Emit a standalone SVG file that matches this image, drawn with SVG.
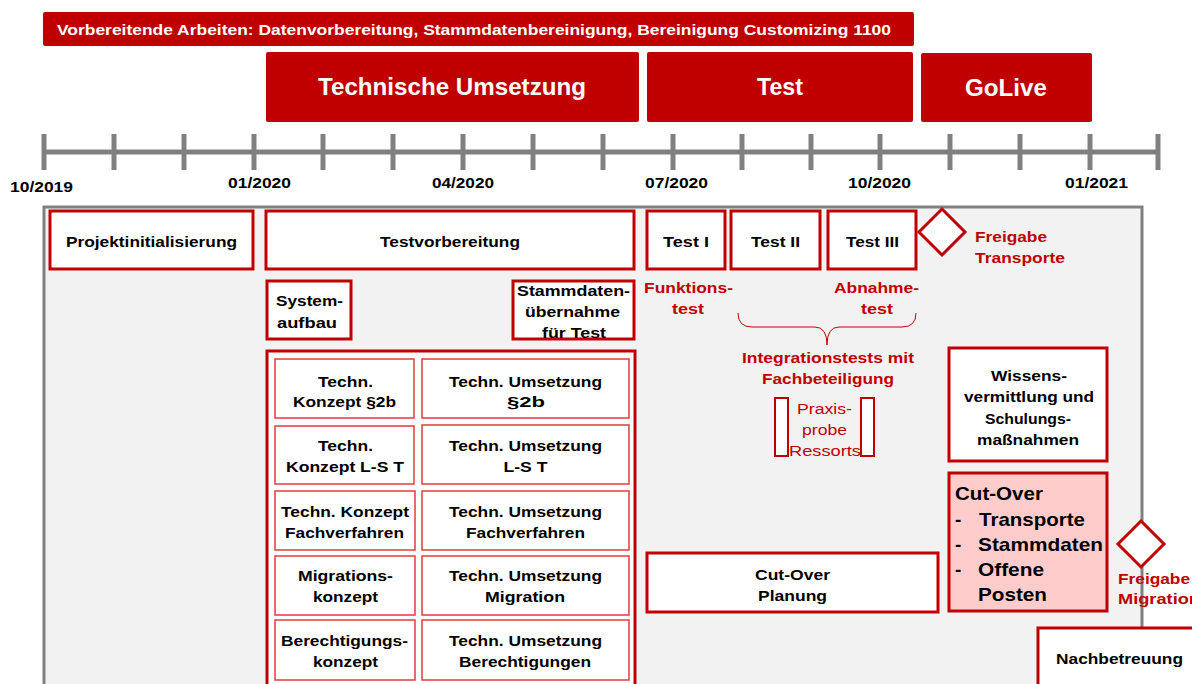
<svg xmlns="http://www.w3.org/2000/svg" width="1192" height="684" viewBox="0 0 1192 684">
<style>
text{font-family:"Liberation Sans",Arial,sans-serif;font-weight:bold;}
.ban{fill:#c00000;}
.wt{fill:#ffffff;}
.bx{fill:#ffffff;stroke:#c00000;stroke-width:3;}
.gb{fill:#ffffff;stroke:#e03c3c;stroke-width:1.5;}
.t{fill:#000000;font-size:15.5px;text-anchor:middle;}
.r{fill:#c00000;font-size:15.5px;}
.tick{stroke:#808080;stroke-width:5;}
.lab{fill:#000000;font-size:15px;text-anchor:middle;}
.n{font-weight:normal;fill:#c00000;font-size:15.5px;text-anchor:middle;}
</style>
<rect width="1192" height="684" fill="#ffffff"/>
<g id="banner">
<rect class="ban" x="43" y="12" width="871" height="34" rx="2"/>
<text class="wt" x="57" y="35" font-size="15.5" textLength="834" lengthAdjust="spacingAndGlyphs">Vorbereitende Arbeiten: Datenvorbereitung, Stammdatenbereinigung, Bereinigung Customizing 1100</text>
</g>
<g id="phase-tech">
<rect class="ban" x="266" y="52" width="373" height="70" rx="2"/>
<text class="wt" x="452" y="95" font-size="23" text-anchor="middle" textLength="268" lengthAdjust="spacingAndGlyphs">Technische Umsetzung</text>
</g>
<g id="phase-test">
<rect class="ban" x="647" y="52" width="266" height="70" rx="2"/>
<text class="wt" x="780" y="95" font-size="23" text-anchor="middle" textLength="46" lengthAdjust="spacingAndGlyphs">Test</text>
</g>
<g id="phase-golive">
<rect class="ban" x="921" y="53" width="171" height="69" rx="2"/>
<text class="wt" x="1006" y="96" font-size="23" text-anchor="middle" textLength="82" lengthAdjust="spacingAndGlyphs">GoLive</text>
</g>
<g id="timeline">
<line class="tick" x1="44" y1="152" x2="1158" y2="152"/>
<line class="tick" x1="44" y1="134" x2="44" y2="170"/>
<line class="tick" x1="114" y1="134" x2="114" y2="170"/>
<line class="tick" x1="184" y1="134" x2="184" y2="170"/>
<line class="tick" x1="254" y1="134" x2="254" y2="170"/>
<line class="tick" x1="323" y1="134" x2="323" y2="170"/>
<line class="tick" x1="393" y1="134" x2="393" y2="170"/>
<line class="tick" x1="463" y1="134" x2="463" y2="170"/>
<line class="tick" x1="533" y1="134" x2="533" y2="170"/>
<line class="tick" x1="603" y1="134" x2="603" y2="170"/>
<line class="tick" x1="673" y1="134" x2="673" y2="170"/>
<line class="tick" x1="742" y1="134" x2="742" y2="170"/>
<line class="tick" x1="811" y1="134" x2="811" y2="170"/>
<line class="tick" x1="880" y1="134" x2="880" y2="170"/>
<line class="tick" x1="950" y1="134" x2="950" y2="170"/>
<line class="tick" x1="1020" y1="134" x2="1020" y2="170"/>
<line class="tick" x1="1090" y1="134" x2="1090" y2="170"/>
<line class="tick" x1="1158" y1="134" x2="1158" y2="170"/>
<text class="lab" x="41.5" y="192" textLength="63" lengthAdjust="spacingAndGlyphs">10/2019</text>
<text class="lab" x="259.5" y="188" textLength="63" lengthAdjust="spacingAndGlyphs">01/2020</text>
<text class="lab" x="463" y="188" textLength="62" lengthAdjust="spacingAndGlyphs">04/2020</text>
<text class="lab" x="676.5" y="188" textLength="63" lengthAdjust="spacingAndGlyphs">07/2020</text>
<text class="lab" x="879.5" y="188" textLength="63" lengthAdjust="spacingAndGlyphs">10/2020</text>
<text class="lab" x="1096.5" y="188" textLength="63" lengthAdjust="spacingAndGlyphs">01/2021</text>
</g>
<g id="panel">
<rect x="44" y="207" width="1098" height="490" fill="#f2f2f2" stroke="#808080" stroke-width="3"/>
</g>
<g id="connectors">
<path d="M738,313 Q738,327 752,327 L815,327 Q827,327 827,345 Q827,327 839,327 L902,327 Q916,327 916,313" fill="none" stroke="#c00000" stroke-width="1"/>
</g>
<g id="projektinitialisierung">
<rect class="bx" x="50" y="211" width="203" height="58"/>
<text class="t" x="151.5" y="247" textLength="171" lengthAdjust="spacingAndGlyphs">Projektinitialisierung</text>
</g>
<g id="testvorbereitung">
<rect class="bx" x="266" y="211" width="368" height="58"/>
<text class="t" x="450" y="247" textLength="140" lengthAdjust="spacingAndGlyphs">Testvorbereitung</text>
</g>
<g id="test1">
<rect class="bx" x="647" y="211" width="78" height="58"/>
<text class="t" x="686" y="247" textLength="46" lengthAdjust="spacingAndGlyphs">Test I</text>
</g>
<g id="test2">
<rect class="bx" x="731" y="211" width="89" height="58"/>
<text class="t" x="775.5" y="247" textLength="49" lengthAdjust="spacingAndGlyphs">Test II</text>
</g>
<g id="test3">
<rect class="bx" x="828" y="211" width="88" height="58"/>
<text class="t" x="872.5" y="247" textLength="53" lengthAdjust="spacingAndGlyphs">Test III</text>
</g>
<g id="freigabe-transporte">
<polygon points="942,209 965,232 942,255 919,232" fill="#ffffff" stroke="#c00000" stroke-width="3"/>
<text class="r" x="975" y="242" textLength="72" lengthAdjust="spacingAndGlyphs">Freigabe</text>
<text class="r" x="975" y="263" textLength="90" lengthAdjust="spacingAndGlyphs">Transporte</text>
</g>
<g id="systemaufbau">
<rect class="bx" x="267" y="281" width="84" height="58"/>
<text class="t" x="309.5" y="306" textLength="67" lengthAdjust="spacingAndGlyphs">System-</text>
<text class="t" x="307" y="328" textLength="60" lengthAdjust="spacingAndGlyphs">aufbau</text>
</g>
<g id="stammdatenuebernahme">
<rect class="bx" x="513" y="281" width="121" height="58"/>
<text class="t" x="573.5" y="296" textLength="113" lengthAdjust="spacingAndGlyphs">Stammdaten-</text>
<text class="t" x="572.5" y="317" textLength="95" lengthAdjust="spacingAndGlyphs">übernahme</text>
<text class="t" x="574" y="338" textLength="64" lengthAdjust="spacingAndGlyphs">für Test</text>
</g>
<g id="funktionstest">
<text class="r" x="688.5" y="293" text-anchor="middle" textLength="89" lengthAdjust="spacingAndGlyphs">Funktions-</text>
<text class="r" x="688" y="314" text-anchor="middle" textLength="32" lengthAdjust="spacingAndGlyphs">test</text>
</g>
<g id="abnahmetest">
<text class="r" x="876.5" y="293" text-anchor="middle" textLength="85" lengthAdjust="spacingAndGlyphs">Abnahme-</text>
<text class="r" x="877" y="314" text-anchor="middle" textLength="32" lengthAdjust="spacingAndGlyphs">test</text>
</g>
<g id="integrationstests">
<text class="r" x="828" y="363" text-anchor="middle" textLength="172" lengthAdjust="spacingAndGlyphs">Integrationstests mit</text>
<text class="r" x="828" y="384" text-anchor="middle" textLength="132" lengthAdjust="spacingAndGlyphs">Fachbeteiligung</text>
</g>
<g id="praxisprobe">
<rect x="775" y="398" width="13" height="58" fill="#ffffff" stroke="#c00000" stroke-width="2"/>
<rect x="861" y="398" width="13" height="58" fill="#ffffff" stroke="#c00000" stroke-width="2"/>
<text class="n" x="824.5" y="414" textLength="55" lengthAdjust="spacingAndGlyphs">Praxis-</text>
<text class="n" x="824.5" y="435" textLength="45" lengthAdjust="spacingAndGlyphs">probe</text>
<text class="n" x="825" y="456" textLength="72" lengthAdjust="spacingAndGlyphs">Ressorts</text>
</g>
<g id="konzept-container">
<rect class="bx" x="267" y="351" width="368" height="345"/>
</g>
<g id="konzept-2b">
<rect class="gb" x="275" y="359" width="139" height="59"/>
<text class="t" x="345.5" y="387" textLength="55" lengthAdjust="spacingAndGlyphs">Techn.</text>
<text class="t" x="344.5" y="407" textLength="103" lengthAdjust="spacingAndGlyphs">Konzept §2b</text>
</g>
<g id="umsetzung-2b">
<rect class="gb" x="422" y="359" width="207" height="59"/>
<text class="t" x="525.5" y="387" textLength="153" lengthAdjust="spacingAndGlyphs">Techn. Umsetzung</text>
<text class="t" x="526" y="407" textLength="38" lengthAdjust="spacingAndGlyphs">§2b</text>
</g>
<g id="konzept-lst">
<rect class="gb" x="275" y="426" width="139" height="58"/>
<text class="t" x="345.5" y="451" textLength="55" lengthAdjust="spacingAndGlyphs">Techn.</text>
<text class="t" x="345" y="472" textLength="118" lengthAdjust="spacingAndGlyphs">Konzept L-S T</text>
</g>
<g id="umsetzung-lst">
<rect class="gb" x="422" y="425" width="207" height="59"/>
<text class="t" x="525.5" y="451" textLength="153" lengthAdjust="spacingAndGlyphs">Techn. Umsetzung</text>
<text class="t" x="525.5" y="472" textLength="44" lengthAdjust="spacingAndGlyphs">L-S T</text>
</g>
<g id="konzept-fachverfahren">
<rect class="gb" x="275" y="491" width="140" height="59"/>
<text class="t" x="345" y="517" textLength="128" lengthAdjust="spacingAndGlyphs">Techn. Konzept</text>
<text class="t" x="344.5" y="538" textLength="119" lengthAdjust="spacingAndGlyphs">Fachverfahren</text>
</g>
<g id="umsetzung-fachverfahren">
<rect class="gb" x="422" y="491" width="207" height="59"/>
<text class="t" x="525.5" y="517" textLength="153" lengthAdjust="spacingAndGlyphs">Techn. Umsetzung</text>
<text class="t" x="525.5" y="538" textLength="119" lengthAdjust="spacingAndGlyphs">Fachverfahren</text>
</g>
<g id="migrationskonzept">
<rect class="gb" x="275" y="556" width="140" height="59"/>
<text class="t" x="345.5" y="581" textLength="95" lengthAdjust="spacingAndGlyphs">Migrations-</text>
<text class="t" x="345.5" y="602" textLength="65" lengthAdjust="spacingAndGlyphs">konzept</text>
</g>
<g id="umsetzung-migration">
<rect class="gb" x="422" y="556" width="207" height="59"/>
<text class="t" x="525.5" y="581" textLength="153" lengthAdjust="spacingAndGlyphs">Techn. Umsetzung</text>
<text class="t" x="525" y="602" textLength="80" lengthAdjust="spacingAndGlyphs">Migration</text>
</g>
<g id="berechtigungskonzept">
<rect class="gb" x="275" y="620" width="140" height="60"/>
<text class="t" x="344.5" y="646" textLength="127" lengthAdjust="spacingAndGlyphs">Berechtigungs-</text>
<text class="t" x="345.5" y="667" textLength="65" lengthAdjust="spacingAndGlyphs">konzept</text>
</g>
<g id="umsetzung-berechtigungen">
<rect class="gb" x="422" y="620" width="207" height="60"/>
<text class="t" x="525.5" y="646" textLength="153" lengthAdjust="spacingAndGlyphs">Techn. Umsetzung</text>
<text class="t" x="525" y="667" textLength="132" lengthAdjust="spacingAndGlyphs">Berechtigungen</text>
</g>
<g id="wissensvermittlung">
<rect class="bx" x="949" y="348" width="158" height="113"/>
<text class="t" x="1029" y="381" textLength="76" lengthAdjust="spacingAndGlyphs">Wissens-</text>
<text class="t" x="1029" y="402" textLength="130" lengthAdjust="spacingAndGlyphs">vermittlung und</text>
<text class="t" x="1028" y="424" textLength="86" lengthAdjust="spacingAndGlyphs">Schulungs-</text>
<text class="t" x="1028" y="445" textLength="102" lengthAdjust="spacingAndGlyphs">maßnahmen</text>
</g>
<g id="cutover">
<rect x="949" y="473" width="158" height="138" fill="#ffcccc" stroke="#c00000" stroke-width="3"/>
<text x="955" y="500" font-size="18" fill="#000000" textLength="88" lengthAdjust="spacingAndGlyphs">Cut-Over</text>
<text x="955" y="526" font-size="19" fill="#000000">-</text>
<text x="979" y="526" font-size="19" fill="#000000" textLength="106" lengthAdjust="spacingAndGlyphs">Transporte</text>
<text x="955" y="551" font-size="19" fill="#000000">-</text>
<text x="978" y="551" font-size="19" fill="#000000" textLength="125" lengthAdjust="spacingAndGlyphs">Stammdaten</text>
<text x="955" y="576" font-size="19" fill="#000000">-</text>
<text x="978" y="576" font-size="19" fill="#000000" textLength="66" lengthAdjust="spacingAndGlyphs">Offene</text>
<text x="978" y="601" font-size="19" fill="#000000" textLength="69" lengthAdjust="spacingAndGlyphs">Posten</text>
</g>
<g id="cutover-planung">
<rect class="bx" x="647" y="553" width="291" height="59"/>
<text class="t" x="792.5" y="580" textLength="75" lengthAdjust="spacingAndGlyphs">Cut-Over</text>
<text class="t" x="792.5" y="601" textLength="69" lengthAdjust="spacingAndGlyphs">Planung</text>
</g>
<g id="freigabe-migration">
<polygon points="1141,521 1164,544 1141,567 1118,544" fill="#ffffff" stroke="#c00000" stroke-width="3"/>
<text class="r" x="1118" y="584" textLength="72" lengthAdjust="spacingAndGlyphs">Freigabe</text>
<text class="r" x="1118" y="604" textLength="82" lengthAdjust="spacingAndGlyphs">Migration</text>
</g>
<g id="nachbetreuung">
<rect class="bx" x="1038" y="628" width="164" height="66"/>
<text class="t" x="1119.5" y="664" textLength="127" lengthAdjust="spacingAndGlyphs">Nachbetreuung</text>
</g>
</svg>
